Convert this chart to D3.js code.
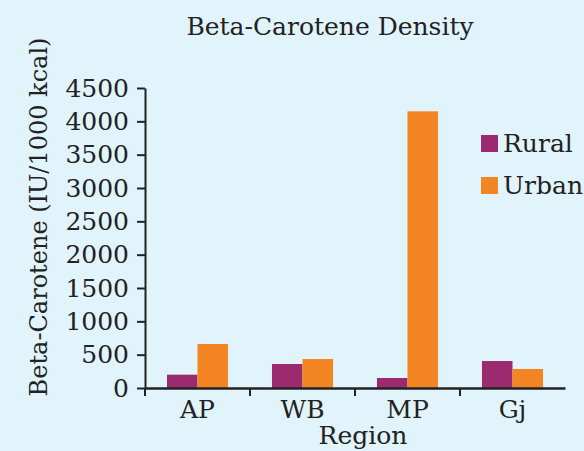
<!DOCTYPE html>
<html><head><meta charset="utf-8">
<script src="https://cdn.jsdelivr.net/npm/d3@7"></script>
<style>body{margin:0;background:#e1f3fb;}svg{display:block;}</style>
</head><body>
<script>
const categories = ["AP", "WB", "MP", "Gj"];
const seriesNames = ["Rural", "Urban"];
const rural = [200, 360, 150, 405];
const urban = [660, 435, 4150, 285];
const yTicks = [0, 500, 1000, 1500, 2000, 2500, 3000, 3500, 4000, 4500];
const colors = ["#9b2a6f", "#f38522"];

const W = 584, H = 451;
const font = "'DejaVu Serif', 'Liberation Serif', serif";
const svg = d3.select("body").append("svg").attr("width", W).attr("height", H);
svg.append("rect").attr("width", W).attr("height", H).attr("fill", "#e1f3fb");

const x0 = d3.scaleBand().domain(categories).range([145, 565]).paddingInner(0).paddingOuter(0);
const x1 = d3.scaleBand().domain(seriesNames).range([0, x0.bandwidth()]).paddingInner(0).paddingOuter(0.72);
const y = d3.scaleLinear().domain([0, 4500]).range([388, 88]);

const data = categories.map((c, i) => ({cat: c, vals: [rural[i], urban[i]]}));

const g = svg.append("g");
g.selectAll("g.grp").data(data).join("g").attr("class", "grp")
  .attr("transform", d => `translate(${x0(d.cat)},0)`)
  .selectAll("rect").data(d => d.vals.map((v, j) => ({v, s: seriesNames[j], j})))
  .join("rect")
  .attr("x", d => x1(d.s)).attr("width", x1.bandwidth())
  .attr("y", d => y(d.v)).attr("height", d => y(0) - y(d.v))
  .attr("fill", d => colors[d.j]);

const yAxis = svg.append("g").attr("transform", "translate(145,0)")
  .call(d3.axisLeft(y).tickValues(yTicks).tickFormat(d3.format("d")).tickSize(8).tickPadding(8).tickSizeOuter(0));
yAxis.select(".domain").attr("stroke", "#222").attr("stroke-width", 2);
yAxis.selectAll(".tick line").attr("stroke", "#222").attr("stroke-width", 2);
yAxis.selectAll("text").attr("font-family", font).attr("font-size", 25).attr("fill", "#222");

const xAxis = svg.append("g").attr("transform", "translate(0,388)")
  .call(d3.axisBottom(x0).tickSize(0).tickPadding(12));
xAxis.select(".domain").attr("stroke", "#222").attr("stroke-width", 2.5);
xAxis.selectAll("text").attr("font-family", font).attr("font-size", 25).attr("fill", "#222");
svg.append("g").selectAll("line").data(categories).join("line")
  .attr("x1", d => x0(d)).attr("x2", d => x0(d))
  .attr("y1", 388).attr("y2", 396).attr("stroke", "#222").attr("stroke-width", 2);

svg.append("text").attr("x", 330).attr("y", 35).attr("text-anchor", "middle")
  .attr("font-family", font).attr("font-size", 25).attr("fill", "#222").text("Beta-Carotene Density");
svg.append("text").attr("transform", "translate(47,217) rotate(-90)").attr("text-anchor", "middle")
  .attr("font-family", font).attr("font-size", 24).attr("fill", "#222").text("Beta-Carotene (IU/1000 kcal)");
svg.append("text").attr("x", 363).attr("y", 444).attr("text-anchor", "middle")
  .attr("font-family", font).attr("font-size", 25).attr("fill", "#222").text("Region");

const leg = svg.append("g").selectAll("g").data(seriesNames).join("g")
  .attr("transform", (d, i) => `translate(481,${135 + i * 42})`);
leg.append("rect").attr("width", 17).attr("height", 17).attr("fill", (d, i) => colors[i]);
leg.append("text").attr("x", 22).attr("y", 17).attr("font-family", font).attr("font-size", 25)
  .attr("fill", "#222").text(d => d);
</script>
</body></html>
